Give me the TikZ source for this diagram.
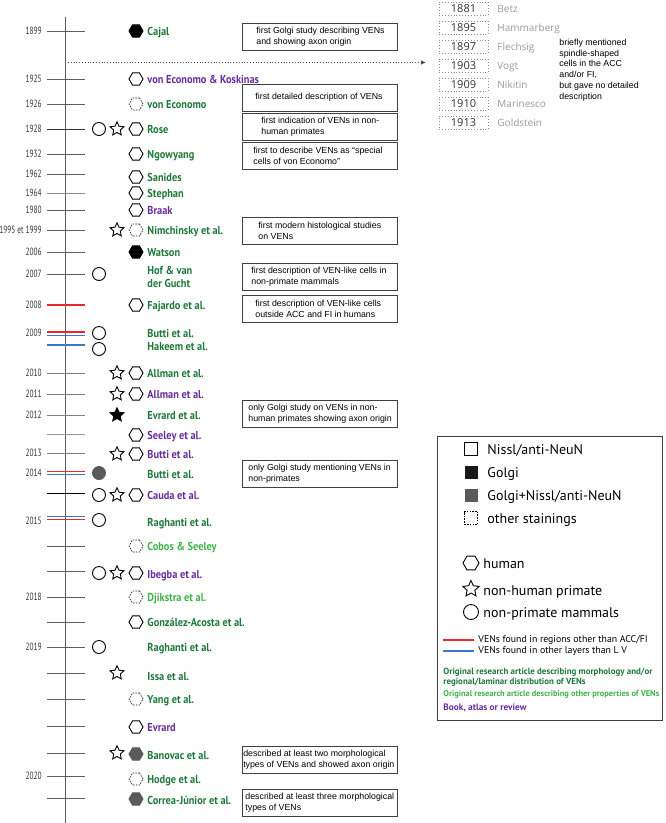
\documentclass[tikz,border=0pt]{standalone}
\usepackage{fontspec}
\setmainfont{Liberation Sans}
\newfontfamily\namefont[FakeStretch=0.9]{PT Sans}
\newfontfamily\keyfont{PT Sans}
\newfontfamily\yearfont[FakeStretch=0.7]{PT Sans}
\newfontfamily\oldfont{Open Sans}
\usetikzlibrary{shapes.geometric,arrows.meta}
\definecolor{artgreen}{RGB}{30,120,58}
\definecolor{propgreen}{RGB}{64,178,72}
\definecolor{bookviolet}{RGB}{104,44,156}
\definecolor{layerblue}{RGB}{58,120,210}
\definecolor{regionred}{RGB}{232,40,44}
\definecolor{mixgray}{RGB}{90,90,90}
\definecolor{tickgray}{RGB}{95,95,95}
\begin{document}
\begin{tikzpicture}[x=1pt,y=-1pt,line width=0.9pt,
    every node/.style={inner sep=0pt},
    yr/.style={anchor=east,text height=7.5pt,text depth=0pt,font=\yearfont\fontsize{10.5}{12}\selectfont,text=black!80},
    ref/.style={anchor=west,align=left,font=\namefont\bfseries\fontsize{11.5}{13}\selectfont,text=artgreen},
    refc/.style={ref,text height=8.1pt,text depth=0pt},
    hexa/.style={regular polygon,regular polygon sides=6,draw,minimum size=14pt},
    starm/.style={star,star points=5,star point ratio=2.1,draw,minimum size=14.5pt},
    circm/.style={circle,draw,minimum size=13pt},
    other/.style={draw=black!85,dash pattern=on 1.5pt off 1.2pt,line width=0.7pt},
    frame/.style={draw=black!75,minimum width=155pt,minimum height=27pt,anchor=north west},
    note/.style={anchor=west,align=left,font=\fontsize{8.8}{10.8}\selectfont},
    key/.style={anchor=west,text height=10pt,text depth=0pt,font=\keyfont\fontsize{14}{16}\selectfont},
    keysmall/.style={anchor=west,align=left,font=\keyfont\fontsize{9.8}{10}\selectfont},
    keybold/.style={anchor=west,align=left,font=\keyfont\bfseries\fontsize{#1}{10}\selectfont},
    oldbox/.style={draw=black!45,dotted,minimum width=49pt,minimum height=13pt,font=\oldfont\fontsize{11}{12}\selectfont,text=black!80},
    oldname/.style={anchor=west,text height=7pt,text depth=0pt,font=\oldfont\fontsize{10}{12}\selectfont,text=black!40}]
  \useasboundingbox (0,0) rectangle (666,823);
  \draw[tickgray] (65,17) -- (65,823);
  \foreach \y/\t/\c in {31/1899/tickgray,79/1925/tickgray,104/1926/tickgray,129/1928/black!80,
      154/1932/tickgray,174/1962/tickgray,193/1964/black!45,210/1980/tickgray,230/1995 et 1999/tickgray,
      252/2006/tickgray,274/2007/tickgray,373/2010/black!50,394/2011/black!50,415/2012/black!50,
      434/{}/black!40,453/2013/black!50,493/{}/black,546/{}/tickgray,571/{}/tickgray,597/2018/tickgray,
      622/{}/tickgray,647/2019/tickgray,673/{}/tickgray,699/{}/tickgray,726/{}/tickgray,
      753/{}/tickgray,776/2020/tickgray,798/{}/tickgray}
    {\draw[\c] (47,\y) -- (85,\y);
     \node[yr] (y\y) at (42,\y) {\t};}
  \begin{scope}[line width=1.3pt]
    \draw[regionred] (47,305) -- (85,305);
    \draw[regionred] (47,332) -- (85,332);
    \draw[layerblue] (47,335.5) -- (85,335.5);
    \draw[layerblue] (47,345) -- (85,345);
    \draw[regionred] (47,471.5) -- (85,471.5);
    \draw[layerblue] (47,474.5) -- (85,474.5);
    \draw[layerblue] (47,516.5) -- (85,516.5);
    \draw[regionred] (47,519.5) -- (85,519.5);
  \end{scope}
  \node[yr] (y305) at (42,305) {2008};
  \node[yr] (y333) at (42,333) {2009};
  \node[yr] (y473) at (42,473) {2014};
  \node[yr] (y521) at (42,521) {2015};
  % studies
  \node[hexa,fill=black] (m1) at (136,31) {};
  \node[refc] (r1) at (147,31) {Cajal};
  \node[hexa] (m2) at (136,79) {};
  \node[refc,text=bookviolet] (r2) at (147,79) {von Economo \& Koskinas};
  \node[hexa,other] (m3) at (136,104) {};
  \node[refc] (r3) at (147,104) {von Economo};
  \node[circm] (c4) at (99,129) {};
  \node[starm] (s4) at (117,129) {};
  \node[hexa] (m4) at (136,129) {};
  \node[refc] (r4) at (147,129) {Rose};
  \node[hexa] (m5) at (136,154) {};
  \node[refc] (r5) at (147,154) {Ngowyang};
  \node[hexa] (m6) at (136,177) {};
  \node[refc] (r6) at (147,177) {Sanides};
  \node[hexa] (m7) at (136,193) {};
  \node[refc] (r7) at (147,193) {Stephan};
  \node[hexa] (m8) at (136,210) {};
  \node[refc,text=bookviolet] (r8) at (147,210) {Braak};
  \node[starm] (s9) at (117,230) {};
  \node[hexa,other] (m9) at (136,230) {};
  \node[refc] (r9) at (147,230) {Nimchinsky et al.};
  \node[hexa,fill=black] (m10) at (136,252) {};
  \node[refc] (r10) at (147,252) {Watson};
  \node[circm] (c11) at (99,274) {};
  \node[ref] (r11) at (147,277) {Hof \& van\\der Gucht};
  \node[hexa] (m12) at (136,305) {};
  \node[refc] (r12) at (147,305) {Fajardo et al.};
  \node[circm] (c13) at (99,333) {};
  \node[refc] (r13) at (147,333) {Butti et al.};
  \node[circm] (c14) at (99,349) {};
  \node[refc] (r14) at (147,346) {Hakeem et al.};
  \node[starm] (s15) at (117,373) {};
  \node[hexa] (m15) at (136,373) {};
  \node[refc] (r15) at (147,373) {Allman et al.};
  \node[starm] (s16) at (117,394) {};
  \node[hexa] (m16) at (136,394) {};
  \node[refc,text=bookviolet] (r16) at (147,394) {Allman et al.};
  \node[starm,fill=black] (s17) at (117,415) {};
  \node[refc] (r17) at (147,415) {Evrard et al.};
  \node[hexa] (m18) at (136,435) {};
  \node[refc,text=bookviolet] (r18) at (147,435) {Seeley et al.};
  \node[starm] (s19) at (117,454) {};
  \node[hexa] (m19) at (136,454) {};
  \node[refc,text=bookviolet] (r19) at (147,454) {Butti et al.};
  \node[circm,fill=mixgray,draw=mixgray] (c20) at (99,473) {};
  \node[refc] (r20) at (147,474) {Butti et al.};
  \node[circm] (c21) at (99,495) {};
  \node[starm] (s21) at (117,495) {};
  \node[hexa] (m21) at (136,495) {};
  \node[refc,text=bookviolet] (r21) at (147,495) {Cauda et al.};
  \node[circm] (c22) at (99,520) {};
  \node[refc] (r22) at (147,522) {Raghanti et al.};
  \node[hexa,other] (m23) at (136,546) {};
  \node[refc,text=propgreen] (r23) at (147,546) {Cobos \& Seeley};
  \node[circm] (c24) at (99,573) {};
  \node[starm] (s24) at (117,573) {};
  \node[hexa] (m24) at (136,573) {};
  \node[refc,text=bookviolet] (r24) at (147,574) {Ibegba et al.};
  \node[hexa,other] (m25) at (136,597) {};
  \node[refc,text=propgreen] (r25) at (147,597) {Djikstra et al.};
  \node[hexa] (m26) at (136,622) {};
  \node[refc] (r26) at (147,622) {González-Acosta et al.};
  \node[circm] (c27) at (99,647) {};
  \node[refc] (r27) at (147,647) {Raghanti et al.};
  \node[starm] (s28) at (117,673) {};
  \node[refc] (r28) at (147,676) {Issa et al.};
  \node[hexa,other] (m29) at (136,699) {};
  \node[refc] (r29) at (147,699) {Yang et al.};
  \node[hexa] (m30) at (136,727) {};
  \node[refc,text=bookviolet] (r30) at (147,727) {Evrard};
  \node[starm] (s31) at (117,753) {};
  \node[hexa,fill=mixgray,draw=mixgray] (m31) at (136,754) {};
  \node[refc] (r31) at (147,755) {Banovac et al.};
  \node[hexa,other] (m32) at (136,779) {};
  \node[refc] (r32) at (147,779) {Hodge et al.};
  \node[hexa,fill=mixgray,draw=mixgray] (m33) at (136,799) {};
  \node[refc] (r33) at (147,800) {Correa-Júnior et al.};
  % notes
  \node[frame] (f1) at (242,23) {};
  \node[note] (n1) at (256,36.5) {first Golgi study describing VENs\\and showing axon origin};
  \node[frame] (f2) at (242,84) {};
  \node[note] (n2) at (255,97.5) {first detailed description of VENs};
  \node[frame] (f3) at (242,113) {};
  \node[note] (n3) at (261,126.5) {first indication of VENs in non-\\human primates};
  \node[frame] (f4) at (242,142) {};
  \node[note] (n4) at (253,155.5) {first to describe VENs as “special\\cells of von Economo”};
  \node[frame] (f5) at (242,217) {};
  \node[note] (n5) at (258,230.5) {first modern histological studies\\on VENs};
  \node[frame] (f6) at (242,263) {};
  \node[note] (n6) at (251,276.5) {first description of VEN-like cells in\\non-primate mammals};
  \node[frame] (f7) at (242,295) {};
  \node[note] (n7) at (255,308.5) {first description of VEN-like cells\\outside ACC and FI in humans};
  \node[frame] (f8) at (242,400) {};
  \node[note] (n8) at (248,413.5) {only Golgi study on VENs in non-\\human primates showing axon origin};
  \node[frame] (f9) at (242,460) {};
  \node[note] (n9) at (248,473.5) {only Golgi study mentioning VENs in\\non-primates};
  \node[frame] (f10) at (242,746) {};
  \node[note] (n10) at (242.8,759.5) {described at least two morphological\\types of VENs and showed axon origin};
  \node[frame] (f11) at (242,789) {};
  \node[note] (n11) at (245,802.5) {described at least three morphological\\types of VENs};
  % early mentions
  \foreach \y/\n/\p [count=\i] in {8.5/1881/Betz,27.5/1895/Hammarberg,46.5/1897/Flechsig,
      65.5/1903/Vogt,84.5/1909/Nikitin,103.5/1910/Marinesco,122.5/1913/Goldstein}
    {\node[oldbox] (ob\i) at (463.5,\y) {\n};
     \node[oldname] (on\i) at (497,\y) {\p};}
  \node[note] (bm) at (559,70) {briefly mentioned\\spindle-shaped\\cells in the ACC\\and/or FI,\\but gave no detailed\\description};
  \coordinate (gap) at (68,62.5);
  \coordinate (tip) at (426,62.5);
  \draw[black!70,dotted,line width=0.8pt,-{Latex[length=5pt,width=4.5pt]}] (gap) -- (tip);
  % legend
  \draw[black!75,line width=0.8pt] (437,436) rectangle (662,720);
  \node[draw,minimum size=13pt] (k1) at (471,449) {};
  \node[key] (t1) at (487,449) {Nissl/anti-NeuN};
  \node[fill=black!90,minimum size=13pt] (k2) at (471,472) {};
  \node[key] (t2) at (487,472) {Golgi};
  \node[fill=mixgray,minimum size=13pt] (k3) at (471,495) {};
  \node[key] (t3) at (487,495) {Golgi+Nissl/anti-NeuN};
  \node[other,draw=black,minimum size=13pt] (k4) at (471,518) {};
  \node[key] (t4) at (487,518) {other stainings};
  \node[hexa,minimum size=16pt] (k5) at (471,563) {};
  \node[key] (t5) at (483,563) {human};
  \node[starm,minimum size=17pt] (k6) at (471,589) {};
  \node[key] (t6) at (483,590) {non-human primate};
  \node[circm,minimum size=15pt] (k7) at (471,612) {};
  \node[key] (t7) at (483,612) {non-primate mammals};
  \coordinate (rs) at (443,640);
  \coordinate (bs) at (443,651);
  \draw[regionred,line width=1.4pt] (rs) -- ++(31,0) coordinate (re);
  \draw[layerblue,line width=1.4pt] (bs) -- ++(31,0) coordinate (be);
  \node[keysmall] (t8) at (478,640) {VENs found in regions other than ACC/FI};
  \node[keysmall] (t9) at (478,651) {VENs found in other layers than L V};
  \node[keybold=8.9,text=artgreen] (t10) at (443,677) {Original research article describing morphology and/or\\regional/laminar distribution of VENs};
  \node[keybold=8.4,text=propgreen] (t11) at (443,694) {Original research article describing other properties of VENs};
  \node[keybold=9.3,text=bookviolet] (t12) at (443,708) {Book, atlas or review};
\end{tikzpicture}
\end{document}
